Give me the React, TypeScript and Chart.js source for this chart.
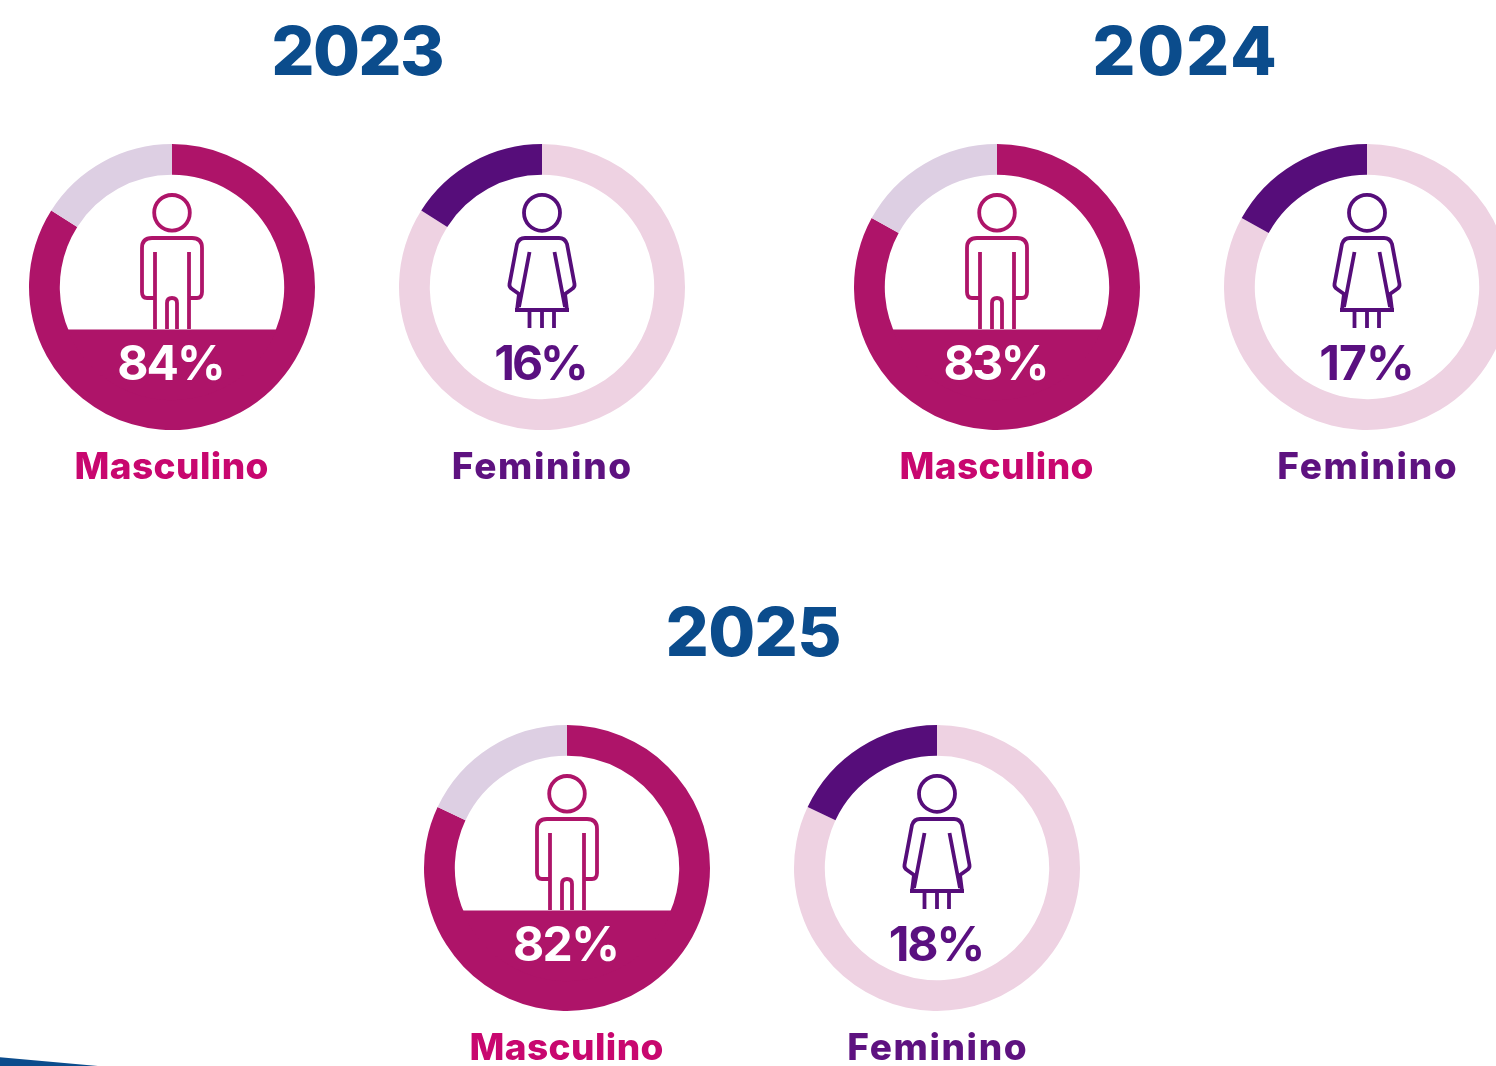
import React, { useEffect, useRef } from "react";
import { Chart, registerables } from "chart.js";

Chart.register(...registerables);

const years = ["2023", "2024", "2025"];
const masculino = [84, 83, 82];
const feminino = [16, 17, 18];
const labelMale = "Masculino";
const labelFemale = "Feminino";

const FONT = "Inter, 'Open Sans', sans-serif";
const MAGENTA = "#AE1469";
const LILAC = "#DDCFE3";
const PINK = "#EED2E2";
const PURPLE = "#560D7A";

const groups = [
  { titleX: 358, titleY: 50, male: [171.5, 286.5], female: [541.5, 286.5], titleLs: -1.7, maleLs: -2, femaleLs: -3 },
  { titleX: 1184.5, titleY: 50, male: [996.5, 286.5], female: [1367, 286.5], titleLs: 1.7, maleLs: -2.5, femaleLs: -1 },
  { titleX: 753.5, titleY: 631, male: [566.5, 868], female: [937, 868], titleLs: -0.7, maleLs: -1.5, femaleLs: -2 },
];

function drawMale(ctx: CanvasRenderingContext2D, x: number, y: number) {
  ctx.save();
  ctx.translate(x, y);
  ctx.strokeStyle = MAGENTA;
  ctx.lineWidth = 3.8;
  ctx.lineJoin = "round";
  ctx.beginPath();
  ctx.arc(0, -74.2, 17.8, 0, Math.PI * 2);
  ctx.stroke();
  ctx.beginPath();
  ctx.moveTo(-17, -35);
  ctx.lineTo(-17, 42);
  ctx.moveTo(17, -35);
  ctx.lineTo(17, 42);
  ctx.moveTo(-17, 11);
  ctx.lineTo(-25, 11);
  ctx.quadraticCurveTo(-30, 11, -30, 5);
  ctx.lineTo(-30, -39);
  ctx.quadraticCurveTo(-30, -49, -20, -49);
  ctx.lineTo(20, -49);
  ctx.quadraticCurveTo(30, -49, 30, -39);
  ctx.lineTo(30, 5);
  ctx.quadraticCurveTo(30, 11, 25, 11);
  ctx.lineTo(17, 11);
  ctx.moveTo(-5, 42);
  ctx.lineTo(-5, 16);
  ctx.quadraticCurveTo(-5, 11, 0, 11);
  ctx.quadraticCurveTo(5, 11, 5, 16);
  ctx.lineTo(5, 42);
  ctx.stroke();
  ctx.restore();
}

function drawFemale(ctx: CanvasRenderingContext2D, x: number, y: number) {
  ctx.save();
  ctx.translate(x, y);
  ctx.strokeStyle = PURPLE;
  ctx.lineWidth = 3.8;
  ctx.lineJoin = "round";
  ctx.beginPath();
  ctx.arc(0, -74.2, 18, 0, Math.PI * 2);
  ctx.stroke();
  ctx.beginPath();
  ctx.moveTo(-12.5, -35);
  ctx.lineTo(-23, 20);
  ctx.moveTo(12.5, -35);
  ctx.lineTo(23, 20);
  ctx.moveTo(-27, 23);
  ctx.lineTo(27, 23);
  ctx.moveTo(-25, 23);
  ctx.lineTo(-23, 7);
  ctx.lineTo(-30, 2);
  ctx.quadraticCurveTo(-33, 0, -32.5, -3);
  ctx.lineTo(-25, -43);
  ctx.quadraticCurveTo(-23, -49, -17, -49);
  ctx.lineTo(17, -49);
  ctx.quadraticCurveTo(23, -49, 25, -43);
  ctx.lineTo(32.5, -3);
  ctx.quadraticCurveTo(33, 0, 30, 2);
  ctx.lineTo(23, 7);
  ctx.lineTo(25, 23);
  for (const lx of [-12.5, 0, 12]) {
    ctx.moveTo(lx, 23);
    ctx.lineTo(lx, 41);
  }
  ctx.stroke();
  ctx.restore();
}

const Ring: React.FC<{
  cx: number;
  cy: number;
  values: number[];
  colors: string[];
  kind: "male" | "female";
}> = ({ cx, cy, values, colors, kind }) => {
  const ref = useRef<HTMLCanvasElement>(null);
  useEffect(() => {
    if (!ref.current) return;
    const chart = new Chart(ref.current, {
      type: "doughnut",
      data: {
        labels: [labelMale, labelFemale],
        datasets: [
          {
            data: values,
            backgroundColor: colors,
            borderWidth: 0,
            radius: 143,
            cutout: 117.7,
          } as any,
        ],
      },
      options: {
        responsive: false,
        animation: false,
        layout: { padding: 0 },
        plugins: { legend: { display: false }, tooltip: { enabled: false } },
      },
      plugins: [
        {
          id: "figure",
          afterDatasetsDraw(c: any) {
            const arc = c.getDatasetMeta(0).data[0];
            const { x, y } = arc;
            const ctx = c.ctx as CanvasRenderingContext2D;
            if (kind === "male") {
              const r = arc.innerRadius + 1;
              const d = 42.5;
              const a = Math.acos(d / r);
              ctx.save();
              ctx.fillStyle = MAGENTA;
              ctx.beginPath();
              ctx.arc(x, y, r, Math.PI / 2 - a, Math.PI / 2 + a);
              ctx.closePath();
              ctx.fill();
              ctx.restore();
              drawMale(ctx, x, y);
            } else {
              drawFemale(ctx, x, y);
            }
          },
        },
      ],
    });
    return () => chart.destroy();
  }, []);
  return (
    <canvas
      ref={ref}
      width={300}
      height={300}
      style={{
        position: "absolute",
        left: cx - 150,
        top: cy - 150,
        width: 300,
        height: 300,
        filter: "blur(0.6px)",
      }}
    />
  );
};

const Label: React.FC<{
  x: number;
  y: number;
  size: number;
  color: string;
  weight: number;
  text: string;
  ls?: number;
}> = ({ x, y, size, color, weight, text, ls = 0 }) => (
  <div
    style={{
      position: "absolute",
      left: x - 200 + ls / 2,
      top: y - 50,
      width: 400,
      height: 100,
      lineHeight: "100px",
      textAlign: "center",
      fontFamily: FONT,
      fontSize: size,
      fontWeight: weight,
      letterSpacing: ls,
      color,
      whiteSpace: "nowrap",
    }}
  >
    {text}
  </div>
);

export default function App() {
  useEffect(() => {
    document.body.style.margin = "0";
    document.body.style.overflow = "hidden";
  }, []);
  return (
    <div
      style={{
        position: "fixed",
        left: 0,
        top: 0,
        width: 1496,
        height: 1066,
        overflow: "hidden",
        background: "#fff",
      }}
    >
      <div
        style={{
          position: "absolute",
          left: 0,
          top: 1056,
          width: 100,
          height: 12,
          background: "#0B4C8C",
          clipPath: "polygon(0 10%, 100% 85%, 0 100%)",
          filter: "blur(0.6px)",
        }}
      />
      {groups.map((g, i) => (
        <React.Fragment key={years[i]}>
          <Label x={g.titleX} y={g.titleY} size={68} color="#0B4C8C" weight={800} text={years[i]} ls={g.titleLs} />
          <Ring cx={g.male[0]} cy={g.male[1]} values={[masculino[i], feminino[i]]} colors={[MAGENTA, LILAC]} kind="male" />
          <Ring cx={g.female[0]} cy={g.female[1]} values={[masculino[i], feminino[i]]} colors={[PINK, PURPLE]} kind="female" />
          <Label x={g.male[0]} y={g.male[1] + 76} size={48} color="#FFFFFF" weight={700} text={`${masculino[i]}%`} ls={g.maleLs} />
          <Label x={g.female[0]} y={g.female[1] + 76} size={48} color="#5A1080" weight={700} text={`${feminino[i]}%`} ls={g.femaleLs} />
          <Label x={g.male[0]} y={g.male[1] + 179} size={37} color="#C8076F" weight={800} text={labelMale} ls={0.4} />
          <Label x={g.female[0]} y={g.female[1] + 179} size={37} color="#5E1280" weight={800} text={labelFemale} ls={1.6} />
        </React.Fragment>
      ))}
    </div>
  );
}
